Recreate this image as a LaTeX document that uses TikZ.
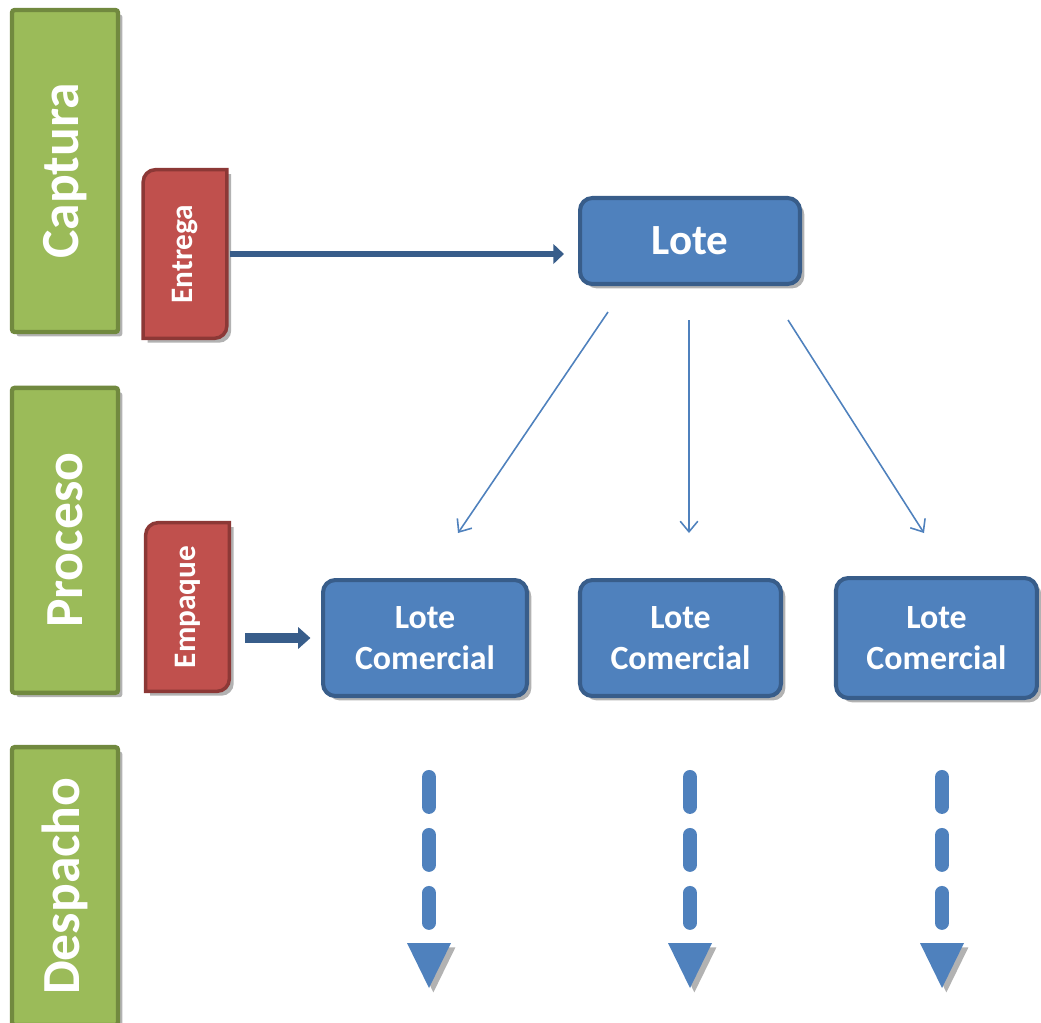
\documentclass[tikz,border=0pt]{standalone}
\usepackage{fontspec}
\setmainfont{Carlito}
\usetikzlibrary{positioning}
\usetikzlibrary{shapes,arrows.meta,shadows,backgrounds}

\definecolor{verde}{HTML}{9BBB59}
\definecolor{verdeborde}{HTML}{71893F}
\definecolor{rojo}{HTML}{C0504D}
\definecolor{rojoborde}{HTML}{8C3836}
\definecolor{azul}{HTML}{4F81BD}
\definecolor{azulborde}{HTML}{385D8A}

\tikzset{
  sombra/.style={drop shadow={shadow xshift=2.5pt, shadow yshift=-2.5pt, opacity=0.3, fill=black}},
  etapa/.style={draw=verdeborde, fill=verde, line width=2.5pt, rounded corners=1.5pt,
    minimum width=2.12cm, text=white, font=\bfseries\fontsize{30.5}{33}\selectfont, sombra},
  pestana/.style={minimum width=1.66cm, minimum height=3.36cm, text=white,
    font=\bfseries\fontsize{17.8}{20}\selectfont},
  pestanafondo/.style={draw=rojoborde, fill=rojo, line width=2pt, sombra},
  lote/.style={draw=azulborde, fill=azul, line width=2.3pt, rounded corners=7pt,
    text=white, align=center, sombra},
  flechagruesa/.style={draw=azulborde, line width=3.6pt, -{Triangle[length=6pt,width=11pt]}},
  flechafina/.style={draw=azul, line width=0.9pt, -{Straight Barb[length=6pt,width=10pt]}},
  trazos/.style={draw=azul, line width=8pt, line cap=round, dash pattern=on 17pt off 16pt},
}

\begin{document}
\begin{tikzpicture}[x=0.02cm, y=-0.02cm]
    \useasboundingbox (0,0) rectangle (1041,1022);

    % etapas
    \node(captura) [etapa, minimum height=6.44cm] at (65,171) {\rotatebox{90}{Captura}};
    \node(proceso) [etapa, minimum height=6.1cm, below=1.03cm of captura] {\rotatebox{90}{Proceso}};
    \node(despacho) [etapa, minimum height=5.56cm, below=1.0cm of proceso] {\rotatebox{90}{Despacho}};

    % pestanas
    \node(entrega) [pestana] at (185,254) {\rotatebox{90}{Entrega}};
    \node(empaque) [pestana] at (187.5,607) {\rotatebox{90}{Empaque}};
    \begin{scope}[on background layer]
      \filldraw[pestanafondo] (entrega.south west) [rounded corners=7pt] -- (entrega.north west)
        [sharp corners] -- (entrega.north east) [rounded corners=7pt] -- (entrega.south east)
        [sharp corners] -- cycle;
      \filldraw[pestanafondo] (empaque.south west) [rounded corners=7pt] -- (empaque.north west)
        [sharp corners] -- (empaque.north east) [rounded corners=7pt] -- (empaque.south east)
        [sharp corners] -- cycle;
    \end{scope}

    % lotes
    \node(lote) [lote, minimum width=4.4cm, minimum height=1.72cm,
      font=\bfseries\fontsize{24.5}{26}\selectfont] at (690,241) {Lote};
    \node(lc1) [lote, minimum width=4.08cm, minimum height=2.32cm,
      font=\bfseries\fontsize{19.3}{23.5}\selectfont] at (425,638) {Lote\\Comercial};
    \node(lc2) [lote, minimum width=4.02cm, minimum height=2.32cm,
      font=\bfseries\fontsize{19.3}{23.5}\selectfont, right=0.98cm of lc1] {Lote\\Comercial};
    \node(lc3) [lote, minimum width=4.02cm, minimum height=2.4cm,
      font=\bfseries\fontsize{19.3}{23.5}\selectfont, right=1.02cm of lc2] {Lote\\Comercial};

    \draw [flechagruesa] (entrega.east) ++(3,0) -- ([xshift=-8pt]lote.west |- entrega.east);
    \draw [flechagruesa, line width=5.5pt, -{Triangle[length=7pt,width=12pt]}]
      ([xshift=9pt]empaque.east |- lc1.west) -- ([xshift=-6pt]lc1.west);

    % reparto
    \coordinate (s1) at (608,312);
    \coordinate (s2) at (689,320);
    \coordinate (s3) at (788,320);
    \coordinate (e1) at (458,533);
    \coordinate (e2) at (689,533);
    \coordinate (e3) at (924,533);
    \draw [flechafina] (s1) -- (e1);
    \draw [flechafina] (s2) -- (e2);
    \draw [flechafina] (s3) -- (e3);

    % despacho
    \coordinate (d1) at (429,777);
    \coordinate (d2) at (690,777);
    \coordinate (d3) at (942,777);
    \draw [trazos] (d1) -- ++(0,146);
    \draw [trazos] (d2) -- ++(0,146);
    \draw [trazos] (d3) -- ++(0,146);
    \fill [azul, sombra] (d1) ++(-22,166) -- ++(44,0) -- ++(-22,45) -- cycle;
    \fill [azul, sombra] (d2) ++(-22,166) -- ++(44,0) -- ++(-22,45) -- cycle;
    \fill [azul, sombra] (d3) ++(-22,166) -- ++(44,0) -- ++(-22,45) -- cycle;
  \end{tikzpicture}
\end{document}
